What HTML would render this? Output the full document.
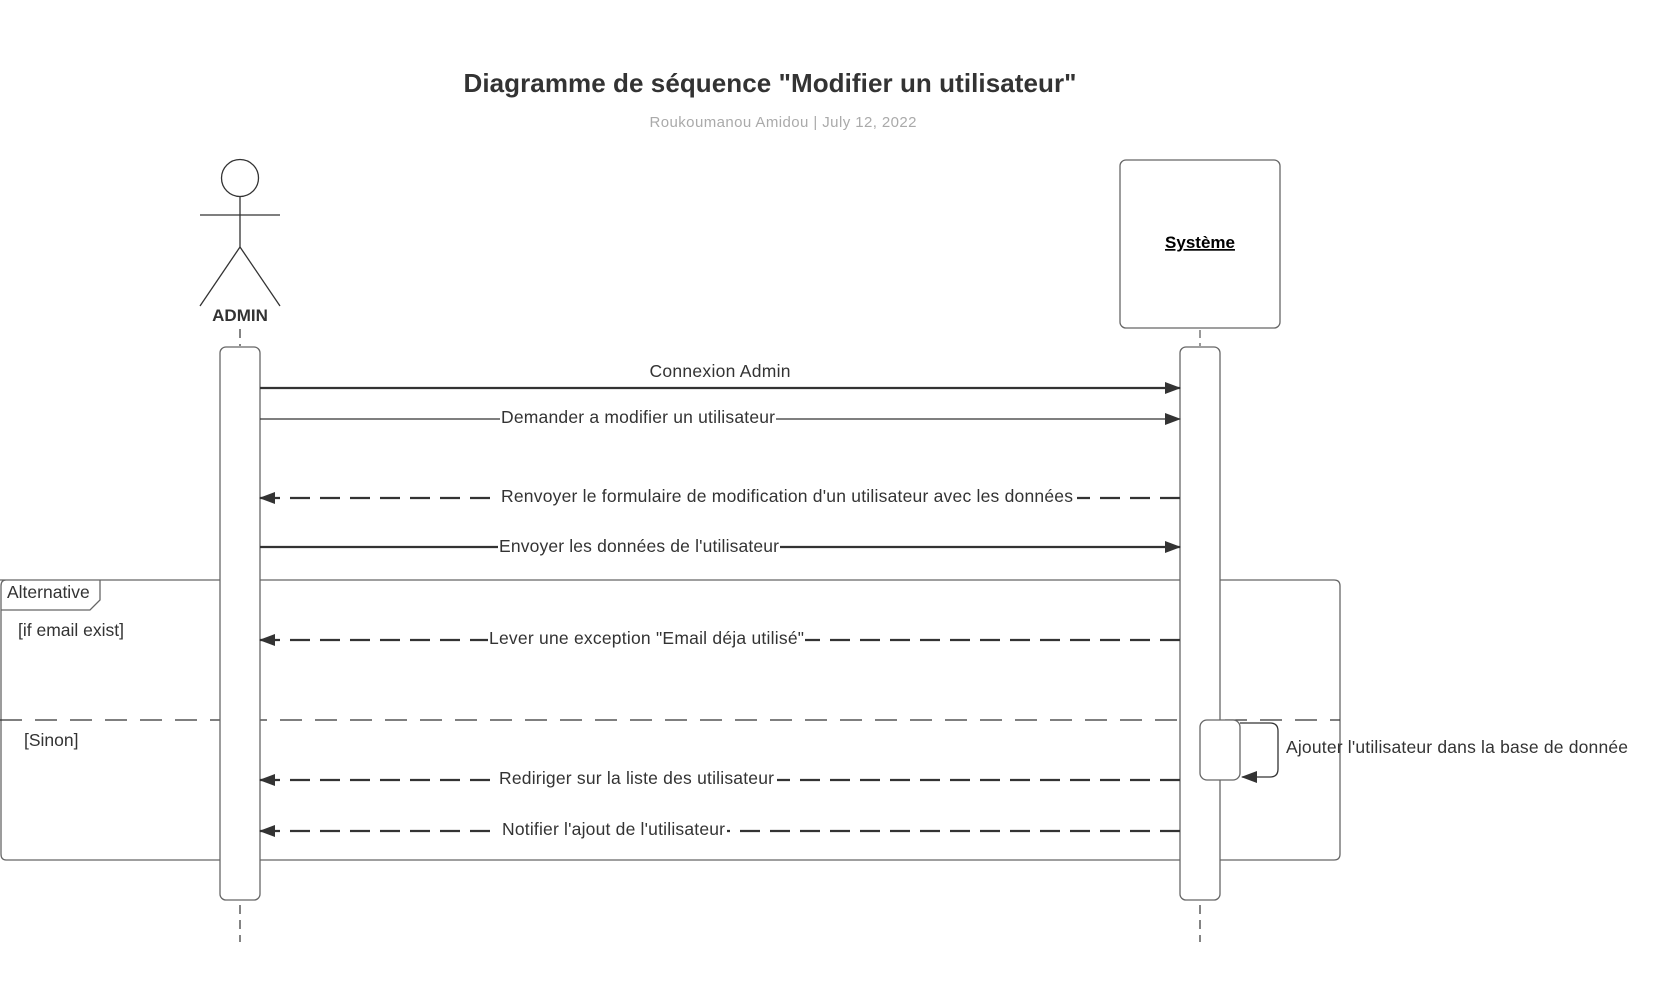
<!DOCTYPE html>
<html><head><meta charset="utf-8"><style>
html,body{margin:0;padding:0;background:#fff;}
svg{display:block;}
text{font-family:"Liberation Sans",Arial,sans-serif;fill:#333;}
</style></head><body>
<svg width="1657" height="1008" viewBox="0 0 1657 1008" xmlns="http://www.w3.org/2000/svg">
<defs>
<marker id="ah" markerWidth="16" markerHeight="12" refX="15" refY="6" orient="auto" markerUnits="userSpaceOnUse">
<path d="M0,0 L16,6 L0,12 Z" fill="#333"/>
</marker>
</defs>
<text x="770" y="92" font-size="26" font-weight="bold" text-anchor="middle" textLength="613">Diagramme de séquence "Modifier un utilisateur"</text>
<text x="783" y="127" font-size="15" text-anchor="middle" style="fill:#aaa" textLength="267">Roukoumanou Amidou  |  July 12, 2022</text>

<g stroke="#333" stroke-width="1.3" fill="none">
<circle cx="240" cy="178" r="18.5" fill="#fff"/>
<line x1="240" y1="197" x2="240" y2="247"/>
<line x1="200" y1="215" x2="280" y2="215"/>
<line x1="240" y1="247" x2="200" y2="306"/>
<line x1="240" y1="247" x2="280" y2="306"/>
</g>
<text x="240" y="321" font-size="17" font-weight="bold" text-anchor="middle">ADMIN</text>

<rect x="1120" y="160" width="160" height="168" rx="6" fill="#fff" stroke="#666" stroke-width="1.3"/>
<text x="1200" y="248" font-size="17" font-weight="bold" text-anchor="middle" style="fill:#000" text-decoration="underline">Système</text>
<line x1="1200" y1="330" x2="1200" y2="346" stroke="#333" stroke-dasharray="8,5"/>

<g stroke="#333" stroke-width="1.2" stroke-dasharray="9,6">
<line x1="240" y1="329" x2="240" y2="346"/>
<line x1="240" y1="905" x2="240" y2="942"/>
<line x1="1200" y1="905" x2="1200" y2="942"/>
</g>

<path d="M0,580 L1334,580 Q1340,580 1340,586 L1340,854 Q1340,860 1334,860 L6,860 Q1,860 1,854 L1,586 Q1,580 6,580" fill="none" stroke="#666" stroke-width="1.3"/>
<path d="M1,610 L90,610 L100,600 L100,580" fill="none" stroke="#666" stroke-width="1.3"/>
<text x="7" y="598" font-size="17.5">Alternative</text>
<text x="18" y="636" font-size="17.5">[if email exist]</text>
<text x="24" y="746" font-size="17.5">[Sinon]</text>
<line x1="0" y1="720" x2="1340" y2="720" stroke="#333" stroke-width="1.2" stroke-dasharray="22,13"/>

<rect x="220" y="347" width="40" height="553" rx="6" fill="#fff" stroke="#666" stroke-width="1.3"/>
<rect x="1180" y="347" width="40" height="553" rx="6" fill="#fff" stroke="#666" stroke-width="1.3"/>
<rect x="1200" y="720" width="40" height="60" rx="7" fill="#fff" stroke="#666" stroke-width="1.3"/>

<path d="M1240,723 L1270,723 Q1278,723 1278,731 L1278,769 Q1278,777 1270,777 L1242,777" fill="none" stroke="#333" stroke-width="1.3" marker-end="url(#ah)"/>
<text x="1286" y="753" font-size="17.5" textLength="342">Ajouter l'utilisateur dans la base de donnée</text>

<g stroke="#333" fill="none">
<line x1="260" y1="388" x2="1180" y2="388" stroke-width="2.2" marker-end="url(#ah)"/>
<line x1="260" y1="419" x2="1180" y2="419" stroke-width="1.3" marker-end="url(#ah)"/>
<line x1="1180" y1="498" x2="260" y2="498" stroke-width="2.2" stroke-dasharray="20,10" marker-end="url(#ah)"/>
<line x1="260" y1="547" x2="1180" y2="547" stroke-width="2.2" marker-end="url(#ah)"/>
<line x1="1180" y1="640" x2="260" y2="640" stroke-width="2.2" stroke-dasharray="20,10" marker-end="url(#ah)"/>
<line x1="1180" y1="780" x2="260" y2="780" stroke-width="2.2" stroke-dasharray="20,10" marker-end="url(#ah)"/>
<line x1="1180" y1="831" x2="260" y2="831" stroke-width="2.2" stroke-dasharray="20,10" marker-end="url(#ah)"/>
</g>
<g fill="#fff">
<rect x="500" y="408" width="276" height="20"/>
<rect x="497" y="487" width="580" height="22"/>
<rect x="498" y="536" width="282" height="22"/>
<rect x="488" y="629" width="317" height="22"/>
<rect x="496" y="769" width="281" height="22"/>
<rect x="499" y="820" width="228" height="22"/>
</g>
<g font-size="17.5">
<text x="720" y="377" text-anchor="middle" textLength="141">Connexion Admin</text>
<text x="501" y="423" textLength="274">Demander a modifier un utilisateur</text>
<text x="501" y="502" textLength="572">Renvoyer le formulaire de modification d'un utilisateur avec les données</text>
<text x="499" y="552" textLength="280">Envoyer les données de l'utilisateur</text>
<text x="489" y="644" textLength="315">Lever une exception "Email déja utilisé"</text>
<text x="499" y="784" textLength="275">Rediriger sur la liste des utilisateur</text>
<text x="502" y="835" textLength="223">Notifier l'ajout de l'utilisateur</text>
</g>
</svg>
</body></html>
